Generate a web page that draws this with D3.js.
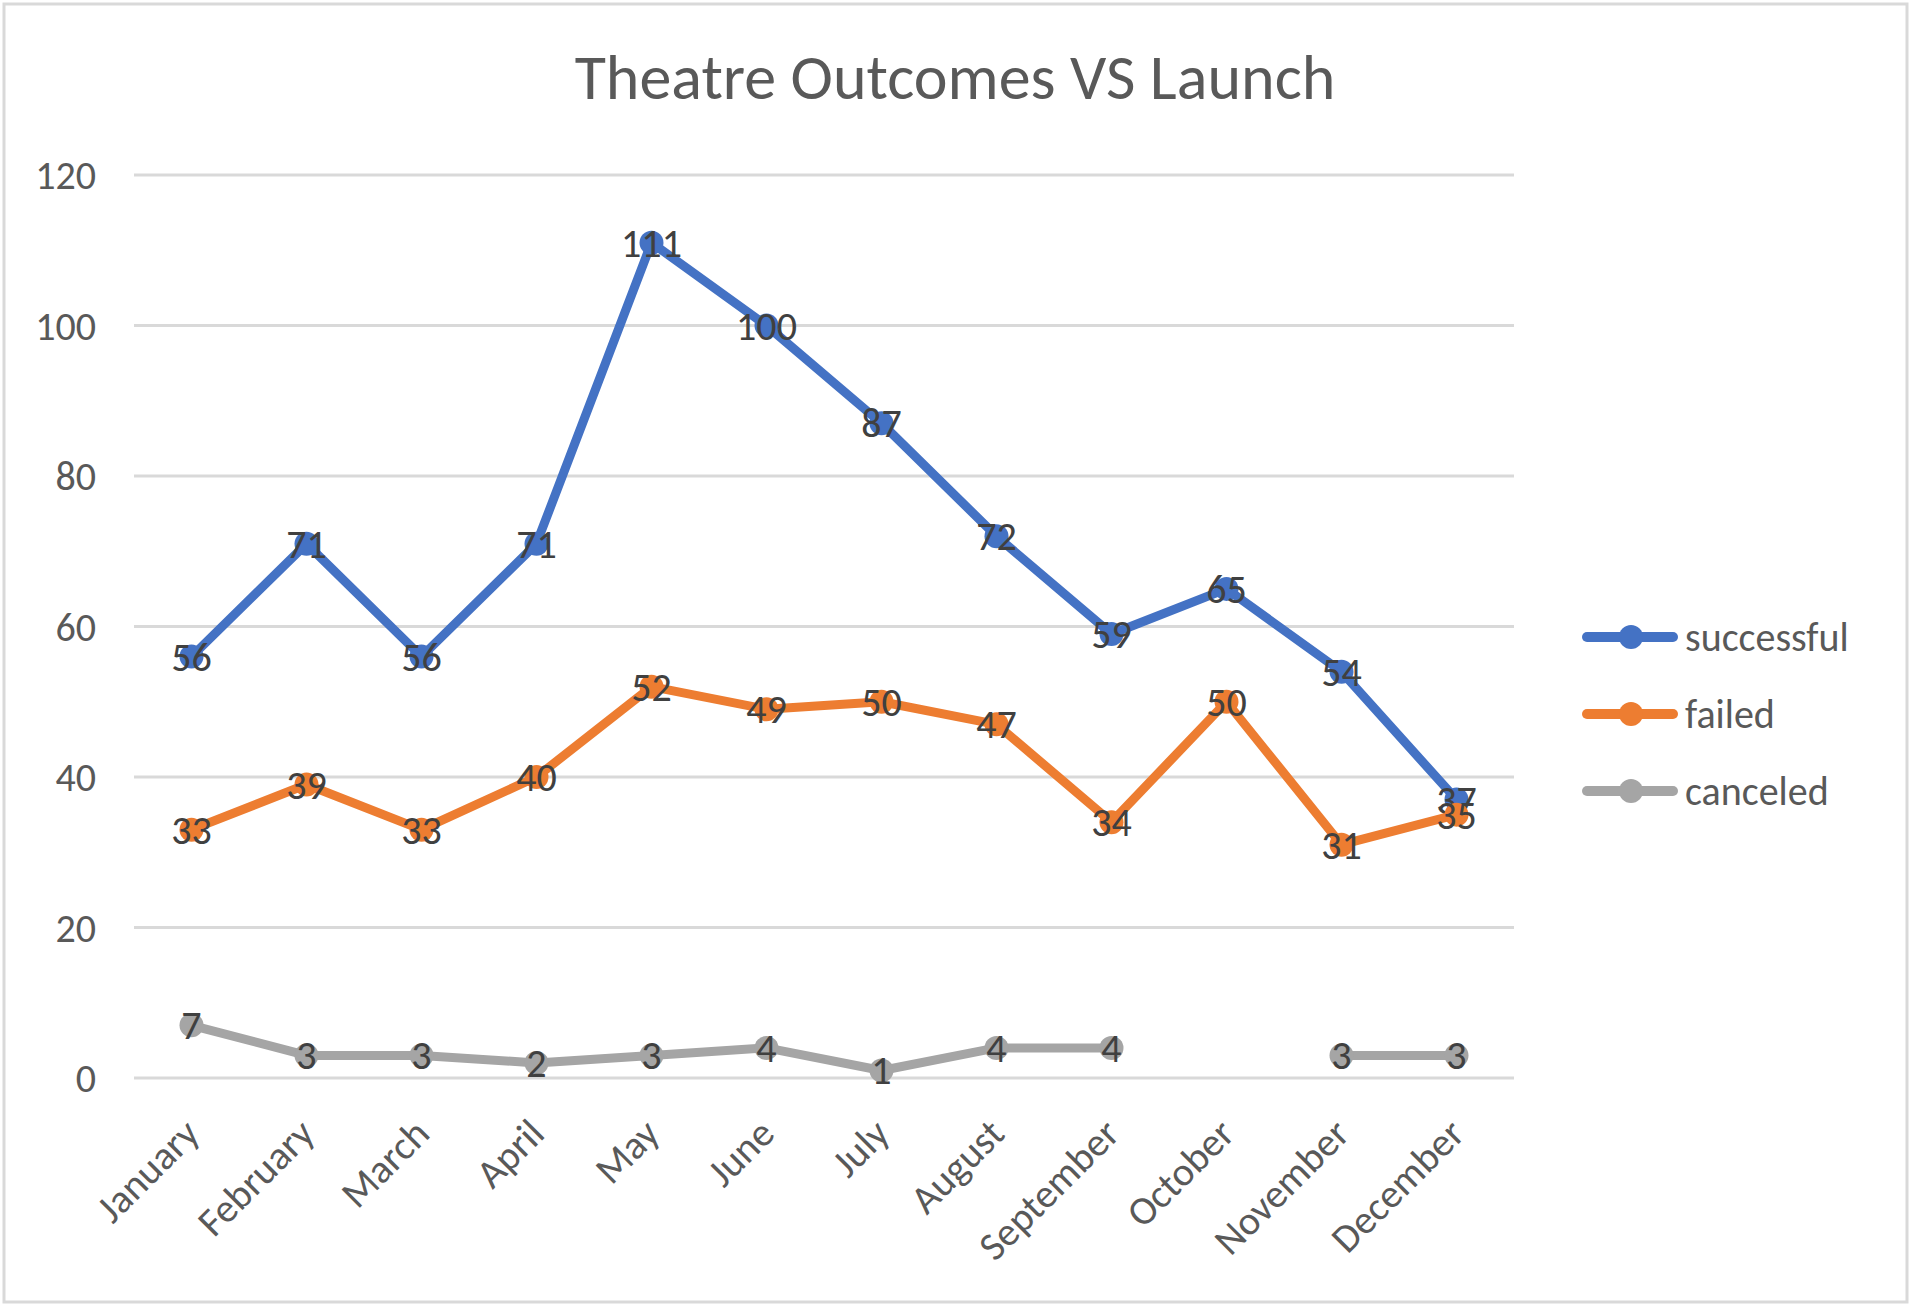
<!DOCTYPE html>
<html>
<head>
	<title>Theatre Outcomes VS Launch</title>
	<script src="https://d3js.org/d3.v7.min.js"></script>
	<style type="text/css">
		body { margin: 0; background: #fff; }
		text { font-family: Calibri, Carlito, Lato, sans-serif; }
	</style>
</head>
<body>
<div id="chart"></div>
	<script type="text/javascript">
	var months = ['January', 'February', 'March', 'April', 'May', 'June',
		'July', 'August', 'September', 'October', 'November', 'December'];
	var successful = [56, 71, 56, 71, 111, 100, 87, 72, 59, 65, 54, 37];
	var failed = [33, 39, 33, 40, 52, 49, 50, 47, 34, 50, 31, 35];
	var canceled = [7, 3, 3, 2, 3, 4, 1, 4, 4, null, 3, 3];
	var yTicks = [0, 20, 40, 60, 80, 100, 120];

	var series = [
		{name: 'successful', values: successful, color: '#4472C4'},
		{name: 'failed', values: failed, color: '#ED7D31'},
		{name: 'canceled', values: canceled, color: '#A5A5A5'}
	];

	var width = 1915,
		height = 1310;

	var svg = d3.select('#chart')
		.append('svg')
		.attr('width', width)
		.attr('height', height);

	svg.append('rect')
		.attr('x', 4).attr('y', 4)
		.attr('width', 1903).attr('height', 1298)
		.attr('fill', '#fff')
		.attr('stroke', '#d9d9d9')
		.attr('stroke-width', 3);

	svg.append('text')
		.attr('x', 955)
		.attr('y', 99)
		.attr('text-anchor', 'middle')
		.style('fill', '#595959')
		.style('font-size', '64px')
		.text('Theatre Outcomes VS Launch');

	var x = d3.scaleBand()
		.domain(months)
		.range([134, 1514]);

	var y = d3.scaleLinear()
		.domain([0, 120])
		.range([1078, 175]);

	function cx(m) { return x(m) + x.bandwidth() / 2; }

	// gridlines
	svg.append('g')
		.selectAll('line')
		.data(yTicks)
		.enter()
		.append('line')
		.attr('x1', 134).attr('x2', 1514)
		.attr('y1', function(d) { return y(d); })
		.attr('y2', function(d) { return y(d); })
		.attr('stroke', '#d9d9d9')
		.attr('stroke-width', 3);

	// y labels
	svg.append('g')
		.selectAll('text')
		.data(yTicks)
		.enter()
		.append('text')
		.attr('x', 96)
		.attr('y', function(d) { return y(d); })
		.attr('dy', '0.35em')
		.attr('text-anchor', 'end')
		.style('fill', '#595959')
		.style('font-size', '40px')
		.text(function(d) { return d; });

	// x labels
	svg.append('g')
		.selectAll('text')
		.data(months)
		.enter()
		.append('text')
		.attr('transform', function(d) {
			return 'translate(' + (cx(d) + 10) + ',' + 1136 + ') rotate(-45)';
		})
		.attr('text-anchor', 'end')
		.style('fill', '#595959')
		.style('font-size', '40px')
		.text(function(d) { return d; });

	var line = d3.line()
		.defined(function(d) { return d != null; })
		.x(function(d, i) { return cx(months[i]); })
		.y(function(d) { return y(d); });

	var groups = svg.selectAll('g.series')
		.data(series)
		.enter()
		.append('g')
		.attr('class', 'series');

	groups.append('path')
		.attr('d', function(s) { return line(s.values); })
		.attr('fill', 'none')
		.attr('stroke', function(s) { return s.color; })
		.attr('stroke-width', 9)
		.attr('stroke-linejoin', 'round')
		.attr('stroke-linecap', 'round');

	groups.selectAll('circle')
		.data(function(s) {
			return s.values.map(function(v, i) { return {v: v, m: months[i], c: s.color}; })
				.filter(function(d) { return d.v != null; });
		})
		.enter()
		.append('circle')
		.attr('cx', function(d) { return cx(d.m); })
		.attr('cy', function(d) { return y(d.v); })
		.attr('r', 12)
		.attr('fill', function(d) { return d.c; });

	groups.selectAll('text.lbl')
		.data(function(s) {
			return s.values.map(function(v, i) { return {v: v, m: months[i]}; })
				.filter(function(d) { return d.v != null; });
		})
		.enter()
		.append('text')
		.attr('class', 'lbl')
		.attr('x', function(d) { return cx(d.m); })
		.attr('y', function(d) { return y(d.v); })
		.attr('dy', '0.35em')
		.attr('text-anchor', 'middle')
		.style('fill', '#404040')
		.style('font-size', '40px')
		.text(function(d) { return d.v; });

	// legend
	var legend = svg.selectAll('g.legend')
		.data(series)
		.enter()
		.append('g')
		.attr('class', 'legend')
		.attr('transform', function(d, i) { return 'translate(0,' + (637 + i * 77) + ')'; });

	legend.append('line')
		.attr('x1', 1587).attr('x2', 1673)
		.attr('stroke', function(d) { return d.color; })
		.attr('stroke-width', 10)
		.attr('stroke-linecap', 'round');

	legend.append('circle')
		.attr('cx', 1631)
		.attr('r', 12)
		.attr('fill', function(d) { return d.color; });

	legend.append('text')
		.attr('x', 1685)
		.attr('dy', '0.35em')
		.style('fill', '#595959')
		.style('font-size', '40px')
		.text(function(d) { return d.name; });
	</script>
</body>
</html>
